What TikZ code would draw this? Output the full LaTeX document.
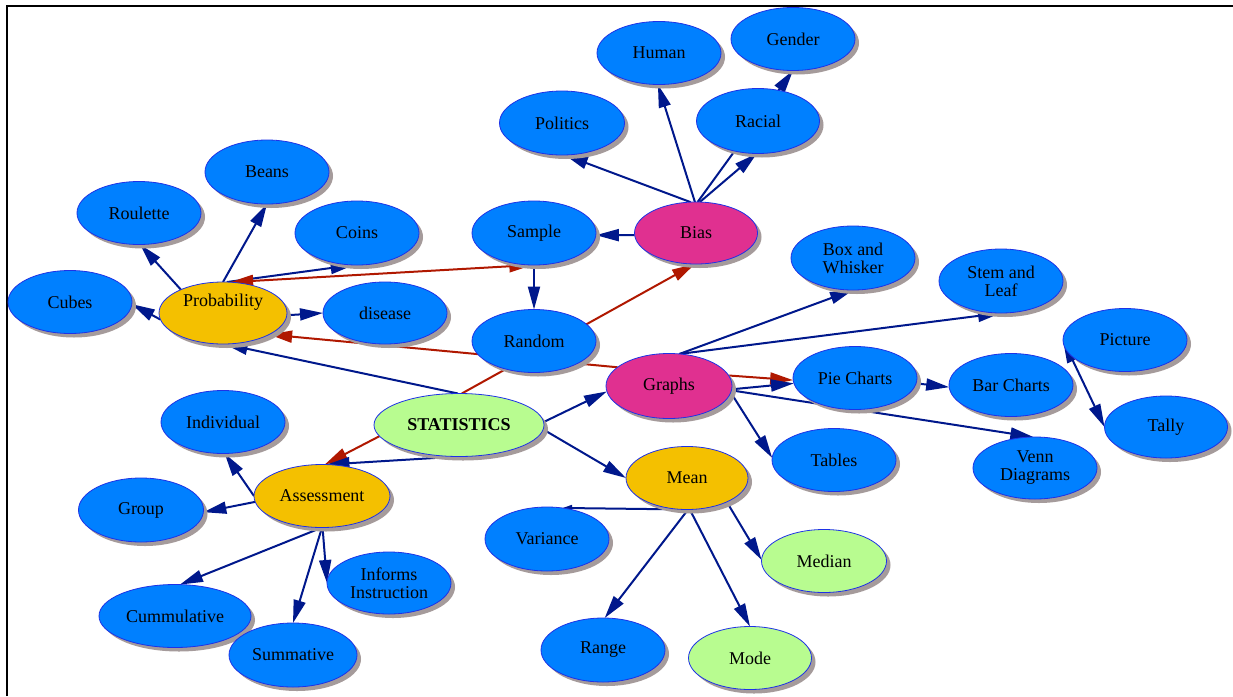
\documentclass[tikz,border=0pt]{standalone}
\usepackage{fontspec}
\setmainfont{Liberation Serif}
\usetikzlibrary{shapes.geometric,arrows.meta,shadows,backgrounds}
\definecolor{cblue}{RGB}{0,128,255}
\definecolor{cedge}{RGB}{30,50,230}
\definecolor{cpink}{RGB}{224,48,144}
\definecolor{cgold}{RGB}{244,192,0}
\definecolor{cgreen}{RGB}{184,252,144}
\definecolor{cshadow}{RGB}{165,155,155}
\definecolor{cnavy}{RGB}{0,24,140}
\definecolor{cred}{RGB}{176,24,0}
\tikzset{
 bub/.style={ellipse, draw=cedge, line width=0.8pt, fill=cblue,
   minimum width=124pt, minimum height=63pt, inner sep=0pt, outer sep=0pt,
   align=center, font=\fontsize{18}{18}\selectfont,
   drop shadow={shadow xshift=4pt, shadow yshift=-4pt, fill=cshadow, opacity=1}},
 pinkb/.style={bub, fill=cpink},
 goldb/.style={bub, fill=cgold},
 greenb/.style={bub, fill=cgreen},
 nv/.style={draw=cnavy, line width=2pt, ->},
 rd/.style={draw=cred, line width=2pt, ->},
 smalltip/.style={-{Triangle[length=10pt,width=6pt]}},
}
\begin{document}
\begin{tikzpicture}[x=1pt,y=-1pt,>={Triangle[length=23pt,width=12pt]}]
\useasboundingbox (0,0) rectangle (1233,696);
\draw[line width=2pt] (6.5,696) -- (6.5,5.5) -- (1233,5.5);

% nodes
\node[bub, minimum width=124pt] (gender) at (793,39) {Gender};
\node[bub] (human) at (659,53) {Human};
\node[bub, minimum width=125pt, minimum height=64pt] (politics) at (562,123) {Politics};
\node[bub, minimum width=123pt, minimum height=65pt] (racial) at (758,121) {Racial};
\node[bub, minimum height=64pt] (sample) at (534,233) {Sample};
\node[pinkb, minimum width=123pt, minimum height=62pt] (bias) at (696,233) {Bias};
\node[bub] (random) at (534,341) {Random};
\node[bub, minimum height=64pt] (beans) at (267,172) {Beans};
\node[bub] (roulette) at (139,213) {Roulette};
\node[bub, minimum height=64pt] (coins) at (357,233) {Coins};
\node[bub] (cubes) at (70,302) {Cubes};
\node[goldb, minimum width=128pt, minimum height=62pt, text height=12pt, text depth=25pt] (prob) at (223,313) {Probability};
\node[bub, minimum height=62pt] (disease) at (385,313) {disease};
\node[greenb, minimum width=170pt] (stat) at (459,425) {\textbf{STATISTICS}};
\node[pinkb, minimum width=126pt, minimum height=65pt] (graphs) at (669,386) {Graphs};
\node[bub] (pie) at (855,378) {Pie Charts};
\node[bub, minimum height=64pt] (box) at (853,258) {Box and\\Whisker};
\node[bub, minimum height=64pt] (stem) at (1001,281) {Stem and\\Leaf};
\node[bub] (picture) at (1125,340) {Picture};
\node[bub] (bar) at (1011,385) {Bar Charts};
\node[bub, minimum width=123pt, minimum height=62pt] (tally) at (1166,427) {Tally};
\node[bub] (tables) at (834,460) {Tables};
\node[bub, minimum height=62pt] (venn) at (1035,468) {Venn\\Diagrams};
\node[goldb, minimum width=122pt] (mean) at (687,478) {Mean};
\node[bub, minimum height=64pt] (variance) at (547,539) {Variance};
\node[greenb, minimum width=125pt] (median) at (824,561) {Median};
\node[bub, minimum height=64pt] (range) at (603,650) {Range};
\node[greenb, minimum width=123pt] (mode) at (750,658) {Mode};
\node[bub] (individual) at (223,422) {Individual};
\node[bub, minimum width=125pt, minimum height=64pt] (group) at (141,510) {Group};
\node[goldb, minimum width=136pt] (assess) at (322,496) {Assessment};
\node[bub, minimum height=62pt] (informs) at (389,583) {Informs\\Instruction};
\node[bub, minimum width=152pt] (cumm) at (175,616) {Cummulative};
\node[bub, minimum width=128pt, minimum height=64pt] (summ) at (293,655) {Summative};

% connectors
\begin{pgfonlayer}{background}
\fill[white] (0,0) rectangle (1233,696);
\draw[nv] (prob.151) -- (roulette.-88);
\draw[nv] (prob.90) -- (beans.-90);
\draw[nv] (prob.186) -- (cubes.-2);
\draw[nv] (prob.-2) -- (disease.180);
\draw[nv] (prob.83) -- (coins.264);
\draw[rd, <->] (prob.77) -- (sample.267);
\draw[rd] (graphs.160) -- (prob.-25);
\draw[rd] (graphs.10) -- (pie.182);
\draw[rd] (stat.85) -- (bias.268);
\draw[rd] (stat.188) -- (assess.85);
\draw[nv] (stat.-90) -- (assess.82);
\draw[nv] (stat.92) -- (prob.-87);
\draw[nv] (stat.2) -- (graphs.185);
\draw[nv] (stat.-3) -- (mean.180);
\draw[nv] (sample.-90) -- (random.90);
\draw[nv] (bias.182) -- (sample.358);
\draw[nv] (bias.100) -- (politics.-85);
\draw[nv] (bias.92) -- (human.-92);
\draw[nv] (bias.83) -- (racial.-92);
\draw[nv] (bias.87) -- (gender.-90);
\draw[nv] (graphs.72) -- (box.-90);
\draw[nv] (graphs.72) -- (stem.-90);
\draw[nv] (graphs.-3) -- (pie.185);
\draw[nv] (graphs.-6) -- (tables.178);
\draw[nv] (graphs.-4) -- (venn.93);
\draw[nv] (pie.-5) -- (bar.182);
\draw[nv, <->] (picture.180) -- (tally.180);
\draw[nv, smalltip] (mean.-88) -- (variance.64);
\draw[nv] (mean.-88) -- (range.87);
\draw[nv] (mean.-85) -- (mode.90);
\draw[nv] (mean.-31) -- (median.179);
\draw[nv] (assess.180) -- (individual.-87);
\draw[nv] (assess.185) -- (group.-2);
\draw[nv] (assess.-90) -- (cumm.81);
\draw[nv] (assess.-90) -- (summ.90);
\draw[nv] (assess.-89) -- (informs.180);
\end{pgfonlayer}
\end{tikzpicture}
\end{document}
